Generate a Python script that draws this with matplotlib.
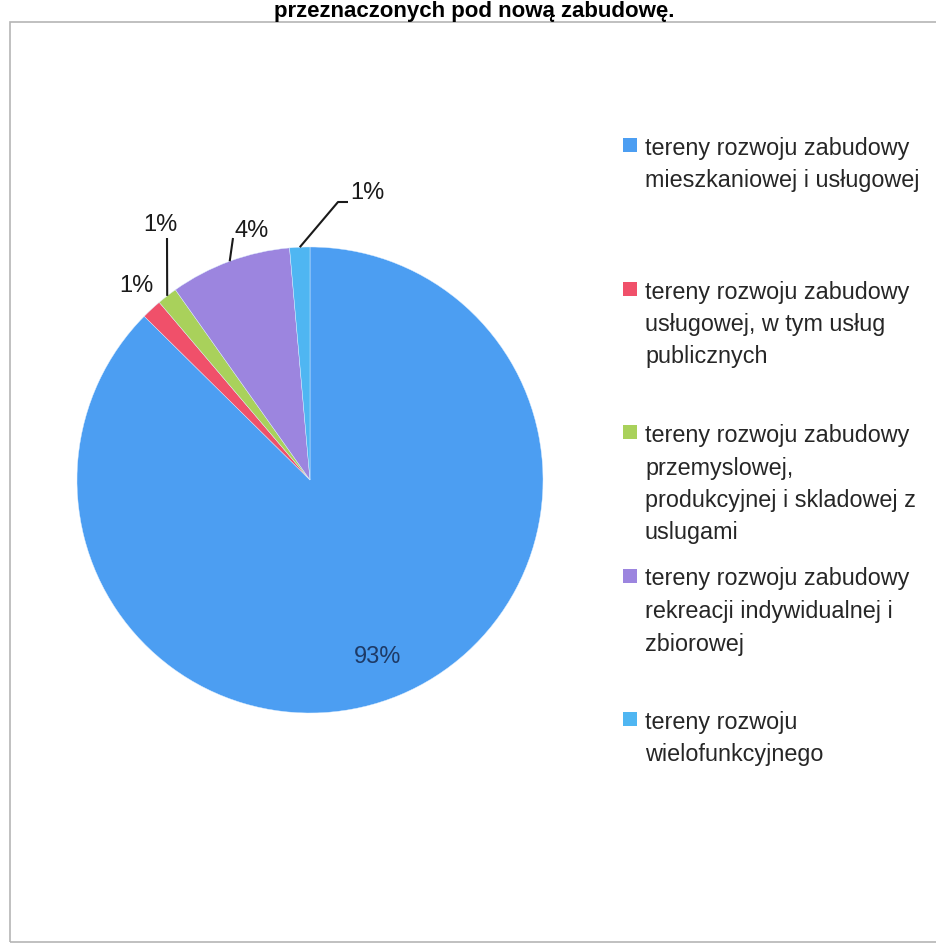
import matplotlib
matplotlib.use("Agg")
import matplotlib.pyplot as plt
from matplotlib import font_manager
from matplotlib.patches import Rectangle
import numpy as np

# ---------------- data ----------------
categories = [
    "tereny rozwoju zabudowy\nmieszkaniowej i usługowej",
    "tereny rozwoju zabudowy\nusługowej, w tym usług\npublicznych",
    "tereny rozwoju zabudowy\nprzemyslowej,\nprodukcyjnej i skladowej z\nuslugami",
    "tereny rozwoju zabudowy\nrekreacji indywidualnej i\nzbiorowej",
    "tereny rozwoju\nwielofunkcyjnego",
]
shares = [87.4, 1.4, 1.4, 8.4, 1.4]
pct_labels = ["93%", "1%", "1%", "4%", "1%"]
colors = ["#4C9EF2", "#F0506A", "#A9D15B", "#9C85DF", "#4FB6F2"]
title = "przeznaczonych pod nową zabudowę."

# ---------------- fonts ----------------
def pick(names):
    for n in names:
        try:
            font_manager.findfont(n, fallback_to_default=False)
            return n
        except Exception:
            pass
    return "DejaVu Sans"

base_font = pick(["Liberation Sans", "Arial"])
narrow_font = pick(["Liberation Sans Narrow", "Liberation Sans", "Arial"])
narrow_size = 19 if narrow_font == "Liberation Sans Narrow" else 16.8

W, H = 936, 944
fig = plt.figure(figsize=(W / 100, H / 100), dpi=100)
fig.patch.set_facecolor("white")

# layout (pixels)
CX, CY, R = 310, 480, 233

def fx(px):
    return px / W

def fy(py):
    return 1 - py / H

ax = fig.add_axes([fx(CX - R), fy(CY + R), 2 * R / W, 2 * R / H])
wedges, _ = ax.pie(shares, colors=colors, startangle=90, counterclock=False,
                   radius=1, wedgeprops=dict(linewidth=0.3, edgecolor="#DDEEFF"))
ax.set_xlim(-1, 1)
ax.set_ylim(-1, 1)
ax.set_aspect("equal")
ax.axis("off")

def px2d(px, py):
    return ((px - CX) / R, (CY - py) / R)

# data labels: text position (px) and leader path (px) -- layout only
label_pos = [(378, 657), (136, 286), (160, 225), (252, 231), (367, 193)]
leaders = [None, None, [(167, 238)], [(233, 238)], [(338, 202), (348, 202)]]
label_colors = ["#1E3A66", "#1a1a1a", "#1a1a1a", "#1a1a1a", "#1a1a1a"]

for w, txt, pos, path, col in zip(wedges, pct_labels, label_pos, leaders, label_colors):
    tx, ty = px2d(*pos)
    ax.text(tx, ty, txt, ha="center", va="center", fontsize=17,
            family=base_font, color=col)
    if path is not None:
        mid = np.deg2rad((w.theta1 + w.theta2) / 2)
        xs = [np.cos(mid)]
        ys = [np.sin(mid)]
        for p in path:
            dx, dy = px2d(*p)
            xs.append(dx)
            ys.append(dy)
        ax.plot(xs, ys, color="#1a1a1a", lw=1.5, clip_on=False,
                solid_capstyle="butt")

# legend (manual, fixed slots)
first_base = 155
slot = 143.5
line_step = 32.5
for i, (cat, col) in enumerate(zip(categories, colors)):
    b = first_base + i * slot
    fig.add_artist(Rectangle((fx(623), fy(b - 3)), 14 / W, 14 / H,
                             transform=fig.transFigure, facecolor=col,
                             edgecolor="none"))
    for k, line in enumerate(cat.split("\n")):
        fig.text(fx(645), fy(b + k * line_step), line, ha="left",
                 va="baseline", fontsize=narrow_size, family=narrow_font,
                 color="#262626")

# title (at the very top, as in the scanned reference)
fig.text(fx(474), fy(17), title, ha="center", va="baseline", fontsize=16,
         fontweight="bold", family=base_font, color="black")

# chart-area border
fig.add_artist(Rectangle((fx(10), fy(942)), (W + 20 - 10) / W, (942 - 22) / H,
                         transform=fig.transFigure, facecolor="none",
                         edgecolor="#B5B5B5", lw=1.2))

fig.savefig("out.png", dpi=100, facecolor="white")
